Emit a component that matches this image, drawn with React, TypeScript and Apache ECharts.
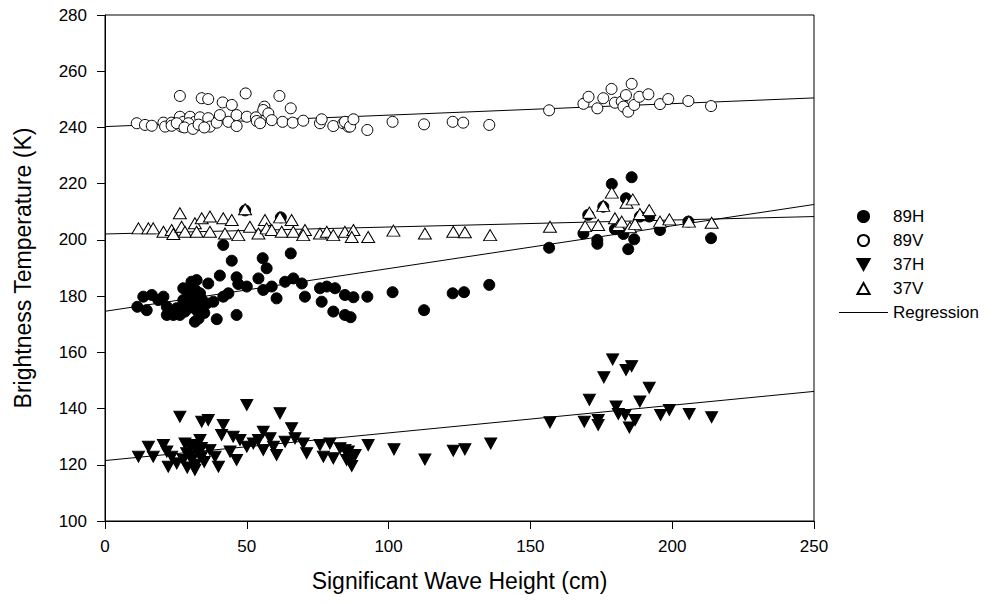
import React, { useEffect, useRef } from "react";
import * as echarts from "echarts";

// Significant wave height (cm) vs brightness temperature (K)
const h89: number[][] = [
  [11.4,176.2],[13.5,179.8],[14.7,175],[16.5,180.4],[18.8,178.6],[20.6,179.8],[21.8,176.2],[21.8,173.3],
  [24.1,173.3],[25.3,175.7],[26.4,173.3],[27.6,182.8],[27.6,178.6],[28.2,174.5],[29.4,181.6],[29,177],
  [30,176],[30.5,185.1],[31.1,178.6],[31.7,170.9],[32.3,185.7],[32.3,175],[32,182],[33,172],[33.5,181],
  [34.1,176.2],[34,179],[35,174],[35.9,177.4],[36.4,184.5],[38.2,178],[39.4,171.8],[40.5,187.3],
  [41.7,198.2],[41.7,179.8],[43.5,181],[44.7,192.6],[46.4,186.7],[46.4,173.3],[47,184.3],[49.4,210.5],
  [50,183.4],[54.1,186.3],[55.6,193.5],[55.8,182.2],[57,189.9],[58.8,183.4],[60.5,179.2],[62,208],
  [63.5,185.1],[65.5,195.2],[66.4,186.3],[69.4,184.5],[70.5,179.8],[75.8,182.8],[76.4,178],[78.2,183.4],
  [80.5,174.5],[81.1,182.8],[84.6,180.4],[84.6,173.3],[86.6,172.5],[87.6,179.6],[92.5,179.8],
  [101.4,181.4],[112.5,175],[122.6,181],[126.6,181.4],[135.5,184],[156.6,197.2],[168.7,202.3],
  [170.4,208.9],[173.6,200],[173.6,198.6],[175.7,211.8],[178.7,219.9],[179.8,203.8],[182.8,202.1],
  [183.7,214.8],[184.5,196.7],[185.7,222.3],[186.6,200.2],[188.6,208.3],[191.9,208.3],[195.7,203.5],
  [205.7,206.5],[213.7,200.6]
];

const v89: number[][] = [
  [26.4,251.2],[34.1,250.4],[36.4,250.1],[41.5,248.9],[44.7,248],[49.6,252.1],[61.5,251.2],[65.5,246.8],
  [56.2,247.4],[55.8,246.2],[57.6,245],[11.2,241.5],[14.1,240.9],[16.5,240.6],[20.6,241.7],[21.2,240.3],
  [23.5,241.7],[23.5,240.6],[26.4,243.8],[27.6,242],[27,240.3],[30,243.8],[31.7,242],[33.5,240.9],
  [33.5,243.6],[36.4,243.3],[37,240.3],[39.4,241.7],[40.5,244.4],[43.5,242],[46.4,244.4],[46.4,240.5],
  [50,243.8],[53.2,243.6],[53.5,242.3],[54.7,241.5],[58.8,242.6],[62.6,242],[66.2,241.7],[69.9,242.4],
  [75.8,241.5],[76.4,242.9],[80.5,240.5],[84,241.5],[85.8,240.3],[25.3,241.5],[29.4,241.5],[28,240],
  [31,239.5],[33,241],[35,240],[84.6,242],[86.4,240.3],[87.6,242.9],[92.5,239.1],[101.4,242],
  [112.5,241.1],[122.6,242],[126.3,241.7],[135.5,240.9],[156.6,246.1],[168.7,248.4],[170.5,250.9],
  [173.6,246.8],[175.7,250.4],[178.6,253.7],[179.8,248.8],[182.2,249.2],[183.7,251.5],[182.8,247.4],
  [184.5,245.6],[185.7,255.5],[186.6,248],[188.4,250.9],[191.6,251.8],[195.7,248.3],[198.6,250.1],
  [205.7,249.4],[213.7,247.6]
];

const h37: number[][] = [
  [11.8,122.9],[15.3,126.4],[17,122.9],[20.6,127],[21.8,124.7],[22.3,119.3],[23.5,122.9],[26.4,137.1],
  [25.3,120.5],[28.2,127.6],[28.8,124.1],[30.6,121.7],[31.7,118.2],[32.3,125.9],[34.1,135.3],[36.4,135.9],
  [34.1,122.9],[37,125.3],[38.8,122.9],[40,119.3],[41.1,130.6],[41.7,134.2],[44.1,124.7],[45.2,130],
  [46.4,121.7],[47.6,128.8],[50,141.3],[50,126.4],[52.3,127.6],[54.1,128.8],[55.8,131.8],[55.8,125.3],
  [58.2,129.4],[59.4,126.4],[60.5,123.5],[61.7,138.3],[63.5,128.2],[65.8,133],[67,129.4],[69.9,127.6],
  [71.1,124.1],[75.8,127],[77,122.9],[79.3,127.6],[80.5,122.3],[82.9,125.9],[85.2,121.7],[85.8,124.7],
  [27.6,121.7],[30,126.4],[33.5,128.8],[30,123],[32,120],[33,124],[35,121],[29,119],[31,127],[34,126],
  [84.6,125.3],[86.4,121.7],[87,119.6],[88.2,123.5],[92.8,127],[101.9,125.5],[112.8,121.9],[122.8,125],
  [126.9,125.5],[136,127.6],[156.9,135.1],[169,135.3],[173.9,135.9],[173.9,134.2],[170.8,143.1],
  [175.9,151.1],[179,157.5],[183.7,153.7],[185.7,155.1],[180.2,140.7],[181,138.1],[183.4,137.7],
  [184.9,133.3],[186.9,135.9],[188.6,142.5],[191.9,147.4],[195.9,137.7],[199,139.5],[206,138.1],
  [213.9,136.9]
];

const v37: number[][] = [
  [11.8,204.1],[15.3,204.1],[17,204.1],[20.6,202.9],[23.5,203.5],[24.1,202.1],[26.4,209.5],[27,204.7],
  [28.2,202.9],[31.7,205.9],[32.3,202.9],[34.1,207.7],[37,208.3],[37,202.9],[41.7,207.7],[42.3,202.3],
  [44.7,207.1],[47,201.7],[49.4,210.9],[51.1,204.7],[54.1,202.3],[56.4,207.1],[57,204.1],[58.8,203.5],
  [61.7,208],[62.3,202.9],[65.8,207.1],[66.4,202.9],[70.5,203.5],[69.9,201.7],[75.8,202.3],[78.2,202.9],
  [80.5,201.7],[84.6,202.9],[87.6,203.5],[87,201],[92.8,201],[101.7,203.3],[112.8,202.3],[122.8,202.9],
  [126.9,202.7],[135.8,201.7],[156.9,204.7],[169.3,204.9],[170.8,209.7],[173.9,205.3],[175.7,212.1],
  [178.7,216.8],[179.8,207.7],[181,205.3],[182.2,206.5],[183.9,213.2],[185.1,204.5],[186.1,214.4],
  [186.9,205.7],[188.6,209.2],[191.9,210.6],[195.7,206.5],[199,207.3],[205.9,206.5],[213.9,206.1]
];

// Regression lines (endpoints at x = 0 and x = 250)
const reg89H: number[][] = [[0, 174.6], [250, 212.6]];
const reg89V: number[][] = [[0, 240.3], [250, 250.5]];
const reg37H: number[][] = [[0, 121.5], [250, 146.1]];
const reg37V: number[][] = [[0, 202.1], [250, 208.3]];

const legendNames = ["89H", "89V", "37H", "37V", "Regression"];
const xTicks = { min: 0, max: 250, interval: 50 };
const yTicks = { min: 100, max: 280, interval: 20 };

const FONT = "'Liberation Sans', Arial, sans-serif";
const DOWN_TRI = "path://M0,0L10,0L5,9Z";
const UP_TRI = "path://M5,0L10,9L0,9Z";
const LINE_ICON = "path://M0,0L49,0L49,1L0,1Z";

export default function App() {
  const ref = useRef<HTMLDivElement>(null);
  useEffect(() => {
    document.body.style.margin = "0";
    const chart = echarts.init(ref.current!, undefined, { renderer: "svg" });
    const regLine = (d: number[][]) => ({
      name: "Regression",
      type: "line",
      data: d,
      symbol: "none",
      showSymbol: false,
      z: 1,
      lineStyle: { color: "#000", width: 1 },
      itemStyle: { color: "#000" },
    });
    const legendIcons: Record<string, string> = {
      "89H": "circle",
      "89V": "circle",
      "37H": DOWN_TRI,
      "37V": UP_TRI,
      Regression: LINE_ICON,
    };
    chart.setOption({
      animation: false,
      backgroundColor: "#fff",
      textStyle: { fontFamily: FONT, color: "#000" },
      grid: {
        left: 105, right: 186, top: 15, bottom: 83,
        show: true, borderColor: "#000", borderWidth: 1,
      },
      legend: {
        data: legendNames.map((n) => ({ name: n, icon: legendIcons[n] })),
        orient: "vertical",
        left: 834,
        top: 203,
        itemWidth: 49,
        itemHeight: 11,
        itemGap: 7,
        textStyle: { fontSize: 17, color: "#000", fontFamily: FONT },
      },
      xAxis: {
        type: "value",
        min: xTicks.min, max: xTicks.max, interval: xTicks.interval,
        name: "Significant Wave Height (cm)",
        nameLocation: "middle",
        nameGap: 48,
        nameTextStyle: { fontSize: 23, color: "#000", fontFamily: FONT },
        axisLine: { lineStyle: { color: "#000" } },
        axisTick: { show: true, length: 8, lineStyle: { color: "#000" } },
        axisLabel: { fontSize: 17, color: "#000", margin: 17, fontFamily: FONT },
        splitLine: { show: false },
      },
      yAxis: {
        type: "value",
        min: yTicks.min, max: yTicks.max, interval: yTicks.interval,
        name: "Brightness Temperature (K)",
        nameLocation: "middle",
        nameRotate: 90,
        nameGap: 71,
        nameTextStyle: { fontSize: 23, color: "#000", fontFamily: FONT },
        axisLine: { show: true, lineStyle: { color: "#000" } },
        axisTick: { show: true, length: 8, lineStyle: { color: "#000" } },
        axisLabel: { fontSize: 17, color: "#000", margin: 18, fontFamily: FONT },
        splitLine: { show: false },
      },
      series: [
        regLine(reg89H),
        regLine(reg89V),
        regLine(reg37H),
        regLine(reg37V),
        {
          name: "89H", type: "scatter", data: h89, symbol: "circle", symbolSize: 11,
          itemStyle: { color: "#000", borderColor: "#000", borderWidth: 1, opacity: 1 },
        },
        {
          name: "89V", type: "scatter", data: v89, symbol: "circle", symbolSize: 11,
          itemStyle: { color: "#fff", borderColor: "#000", borderWidth: 1, opacity: 1 },
        },
        {
          name: "37H", type: "scatter", data: h37, symbol: DOWN_TRI, symbolSize: [12, 11],
          itemStyle: { color: "#000", borderColor: "#000", borderWidth: 1, opacity: 1 },
        },
        {
          name: "37V", type: "scatter", data: v37, symbol: UP_TRI, symbolSize: [13, 11],
          itemStyle: { color: "#fff", borderColor: "#000", borderWidth: 1, opacity: 1 },
        },
      ],
    });
    return () => chart.dispose();
  }, []);
  return <div ref={ref} style={{ width: 1000, height: 604 }} />;
}
